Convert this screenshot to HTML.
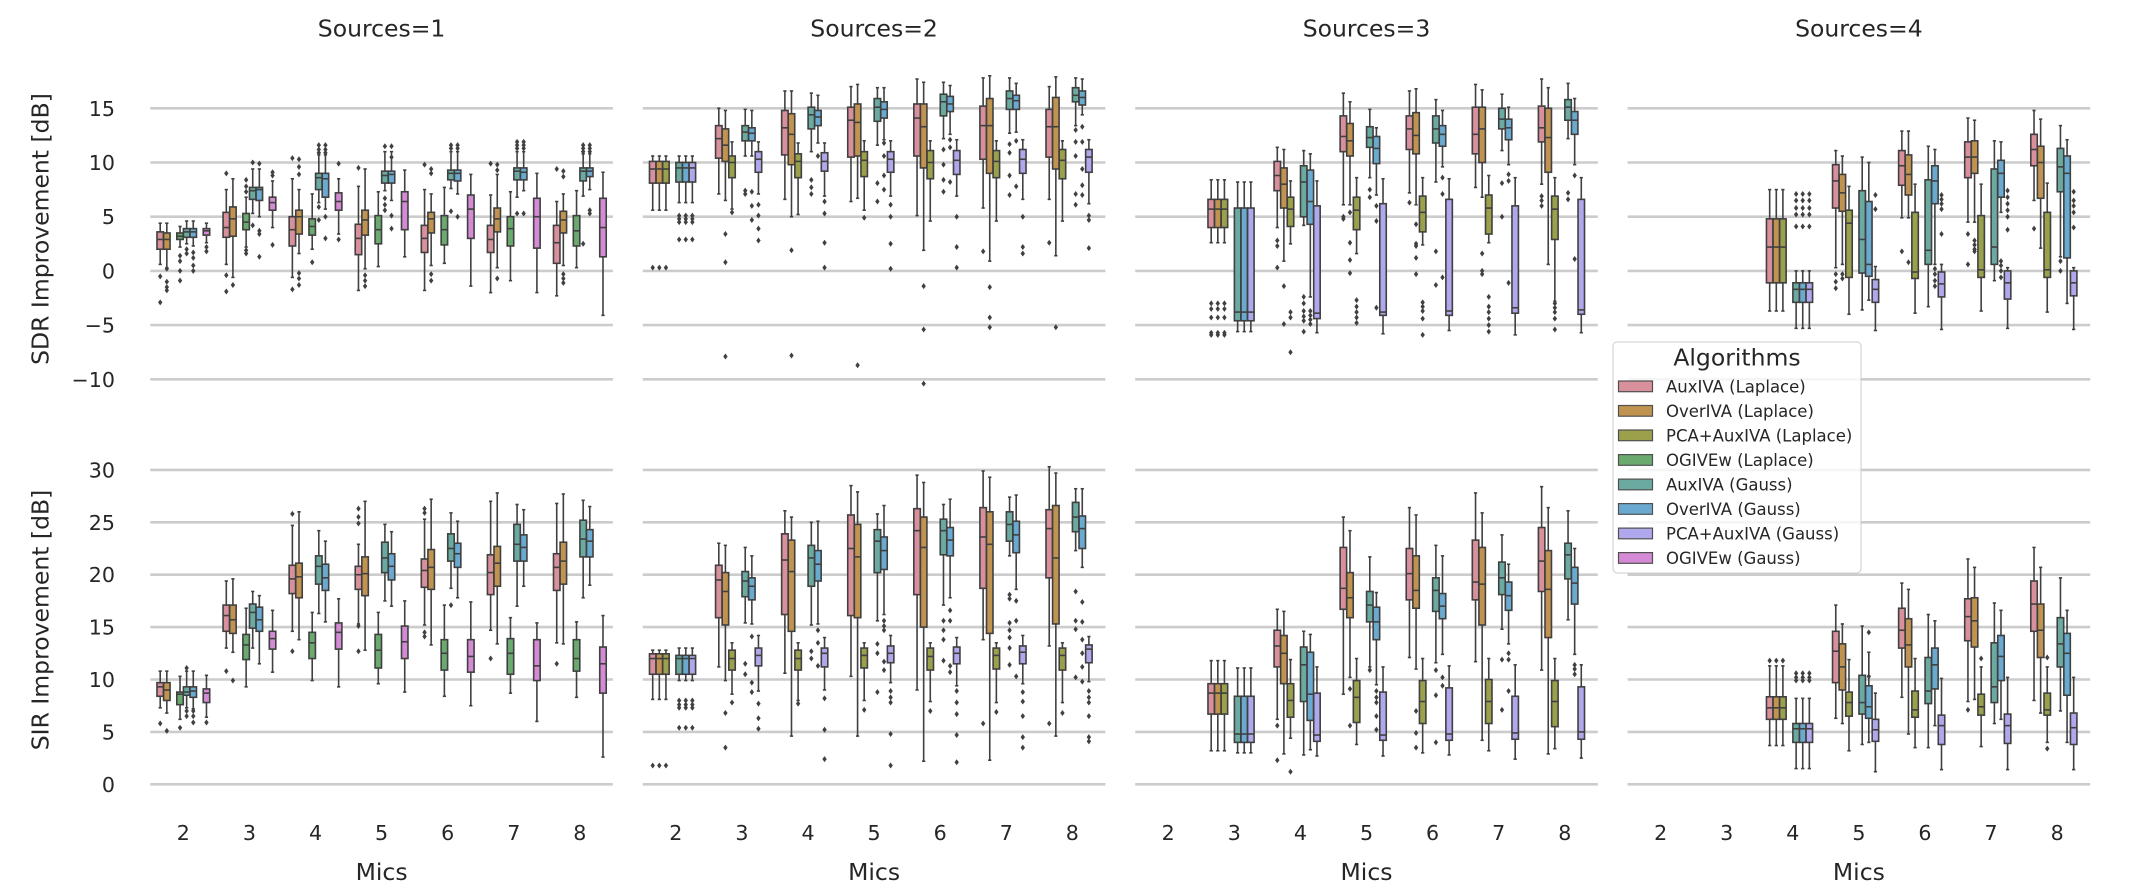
<!DOCTYPE html>
<html>
<head>
<meta charset="utf-8">
<style>
html,body{margin:0;padding:0;background:#fff;}
svg{display:block;font-family:"DejaVu Sans","Liberation Sans",sans-serif;}
</style>
</head>
<body>
<svg id="s" width="2140" height="892" viewBox="0 0 2140 892" xmlns="http://www.w3.org/2000/svg">
<rect x="0" y="0" width="2140" height="892" fill="#ffffff"/>
<g id="grid"></g>
<g id="plot"></g>
<g fill="#262626">
  <text x="381.6" y="36.5" font-size="23.5" text-anchor="middle">Sources=1</text>
  <text x="874.1" y="36.5" font-size="23.5" text-anchor="middle">Sources=2</text>
  <text x="1366.5" y="36.5" font-size="23.5" text-anchor="middle">Sources=3</text>
  <text x="1858.9" y="36.5" font-size="23.5" text-anchor="middle">Sources=4</text>

  <text x="48.5" y="229" font-size="23.5" text-anchor="middle" transform="rotate(-90 48.5 229)">SDR Improvement [dB]</text>
  <text x="48.5" y="620" font-size="23.5" text-anchor="middle" transform="rotate(-90 48.5 620)">SIR Improvement [dB]</text>

  <g font-size="20.6" text-anchor="end">
    <text x="115" y="115.8">15</text>
    <text x="115" y="170">10</text>
    <text x="115" y="224.2">5</text>
    <text x="115" y="278.4">0</text>
    <text x="115" y="332.6">−5</text>
    <text x="115" y="386.8">−10</text>
    <text x="115" y="477.4">30</text>
    <text x="115" y="529.8">25</text>
    <text x="115" y="582.2">20</text>
    <text x="115" y="634.6">15</text>
    <text x="115" y="687">10</text>
    <text x="115" y="739.4">5</text>
    <text x="115" y="791.8">0</text>
  </g>
  <g id="xt" font-size="20.6" text-anchor="middle"></g>
  <g font-size="23.5" text-anchor="middle">
    <text x="381.6" y="880">Mics</text>
    <text x="874.1" y="880">Mics</text>
    <text x="1366.5" y="880">Mics</text>
    <text x="1858.9" y="880">Mics</text>
  </g>
</g>
<g id="legend">
  <rect x="1613" y="342" width="248" height="231" rx="4" ry="4" fill="#ffffff" fill-opacity="0.8" stroke="#cccccc" stroke-width="1"/>
  <text x="1737" y="365.5" font-size="23.5" text-anchor="middle" fill="#262626">Algorithms</text>
  <g stroke="#505050" stroke-width="1.2">
    <rect x="1618.5" y="381" width="34" height="10.7" fill="#d8909c"/>
    <rect x="1618.5" y="405.5" width="34" height="10.7" fill="#c09450"/>
    <rect x="1618.5" y="430" width="34" height="10.7" fill="#9ba04b"/>
    <rect x="1618.5" y="454.6" width="34" height="10.7" fill="#6aaa6e"/>
    <rect x="1618.5" y="479.1" width="34" height="10.7" fill="#6aaaa0"/>
    <rect x="1618.5" y="503.6" width="34" height="10.7" fill="#6aaad0"/>
    <rect x="1618.5" y="528.1" width="34" height="10.7" fill="#b0a8ec"/>
    <rect x="1618.5" y="552.6" width="34" height="10.7" fill="#d48ad4"/>
  </g>
  <g font-size="16.5" fill="#262626">
    <text x="1666" y="392.5">AuxIVA (Laplace)</text>
    <text x="1666" y="417">OverIVA (Laplace)</text>
    <text x="1666" y="441.5">PCA+AuxIVA (Laplace)</text>
    <text x="1666" y="466.1">OGIVEw (Laplace)</text>
    <text x="1666" y="490.6">AuxIVA (Gauss)</text>
    <text x="1666" y="515.1">OverIVA (Gauss)</text>
    <text x="1666" y="539.6">PCA+AuxIVA (Gauss)</text>
    <text x="1666" y="564.1">OGIVEw (Gauss)</text>
  </g>
</g>
</svg>
<script>
(function(){
const P=[150.3,642.8,1135.2,1627.6],W=462.6,S=W/7;
const YF=[v=>270.9-10.84*v, v=>784.3-10.48*v];
const C=['#d8909c','#c09450','#9ba04b','#6aaa6e','#6aaaa0','#6aaad0','#b0a8ec','#d48ad4'];
const G='#404040';
const f=n=>n.toFixed(2);
let g='';
const gv=[[15,10,5,0,-5,-10],[30,25,20,15,10,5,0]];
for(let r=0;r<2;r++)for(let c=0;c<4;c++)for(const v of gv[r]){const y=f(YF[r](v));g+=`<line x1="${P[c]}" x2="${f(P[c]+W)}" y1="${y}" y2="${y}" stroke="#cccccc" stroke-width="2.6"/>`;}
document.getElementById('grid').innerHTML=g;
let xt='';
for(let c=0;c<4;c++)for(let m=0;m<7;m++){xt+=`<text x="${f(P[c]+(m+0.5)*S)}" y="840">${m+2}</text>`;}
document.getElementById('xt').innerHTML=xt;

function bx(c,r,m,h,a){
  const Y=YF[r];
  const cx=P[c]+(m-2+0.5)*S+(h-3.5)*S*0.1;
  const bw=S*0.098, cw=bw*0.5;
  const [a1,a2,md,w1,w2,...o]=a;
  const yt=Y(Math.max(a1,a2)), yb=Y(Math.min(a1,a2));
  const wt=Y(Math.max(w1,w2)), wb=Y(Math.min(w1,w2));
  let s='';
  s+=`<line x1="${f(cx)}" x2="${f(cx)}" y1="${f(wt)}" y2="${f(wb)}" stroke="${G}" stroke-width="1.6"/>`;
  s+=`<line x1="${f(cx-cw/2)}" x2="${f(cx+cw/2)}" y1="${f(wt)}" y2="${f(wt)}" stroke="${G}" stroke-width="1.6"/>`;
  s+=`<line x1="${f(cx-cw/2)}" x2="${f(cx+cw/2)}" y1="${f(wb)}" y2="${f(wb)}" stroke="${G}" stroke-width="1.6"/>`;
  s+=`<rect x="${f(cx-bw/2)}" y="${f(yt)}" width="${f(bw)}" height="${f(Math.max(yb-yt,0.5))}" fill="${C[h]}" stroke="${G}" stroke-width="1.6"/>`;
  const ym=Y(md);
  s+=`<line x1="${f(cx-bw/2)}" x2="${f(cx+bw/2)}" y1="${f(ym)}" y2="${f(ym)}" stroke="${G}" stroke-width="1.6"/>`;
  for(const v of o){const y=Y(v);s+=`<path d="M${f(cx)} ${f(y-3)}L${f(cx+2.2)} ${f(y)}L${f(cx)} ${f(y+3)}L${f(cx-2.2)} ${f(y)}Z" fill="${G}"/>`;}
  return s;
}

const D={
'0,0':[
[2,0,3.6,2.0,2.9,4.4,0.6,-0.5,-2.9],
[2,1,3.5,2.0,2.9,4.4,0.3,0.2,-1.0,-1.5,-1.8],
[2,3,3.5,2.9,3.2,4.1,2.2,1.4,0.9,0.0,-0.9],
[2,4,3.9,3.1,3.6,4.6,2.5,2.0,1.6],
[2,5,3.9,3.1,3.6,4.6,2.3,1.7,1.2,0.5,0.0],
[2,7,3.9,3.3,3.7,4.4,2.6,2.2,1.8],
[3,0,5.4,3.1,4.0,7.5,0.6,9.0,-0.4,-1.9],
[3,1,5.9,3.2,4.8,8.5,-0.6,-1.3],
[3,3,5.3,3.8,4.5,6.8,2.2,8.4,7.8,7.3,1.9,1.6],
[3,4,7.7,6.6,7.4,9.4,5.3,10.0,4.2],
[3,5,7.7,6.5,7.5,9.4,5.0,9.9,3.7,3.4,1.3],
[3,7,6.8,5.6,6.3,8.3,4.0,9.1,8.8,2.4],
[4,0,5.0,2.3,3.8,8.5,-0.6,10.4,-1.7],
[4,1,5.6,3.4,5.0,7.5,1.6,10.3,9.6,8.9,-0.2,-0.7,-1.3],
[4,3,4.8,3.3,4.1,7.1,2.0,0.8],
[4,4,9.0,7.5,8.6,10.7,6.3,11.6,11.2,10.9,5.9,4.7],
[4,5,9.0,6.8,8.5,10.7,5.7,11.6,11.2,10.9,5.0,3.0],
[4,7,7.2,5.6,6.4,8.5,3.4,9.9,2.9],
[5,0,4.3,1.5,3.0,7.8,-1.8,9.5],
[5,1,5.6,3.3,4.7,9.4,0.2,-0.4,-0.9,-1.4],
[5,3,5.1,2.5,3.8,7.3,0.4],
[5,4,9.2,8.1,8.8,11.0,7.4,11.5,6.7,6.1,5.6],
[5,5,9.2,8.1,8.9,11.0,6.5,11.5,10.5,5.1,3.9],
[5,7,7.3,3.8,6.4,9.3,1.3],
[6,0,4.2,1.7,3.0,7.5,-1.8,9.8],
[6,1,5.4,3.5,4.8,7.1,0.5,9.4,9.0,-0.3,-0.9],
[6,3,5.1,2.4,3.8,7.7,0.7],
[6,4,9.3,8.4,9.0,11.0,7.6,11.6,11.3,5.5],
[6,5,9.3,8.3,9.0,11.0,7.1,11.6,11.3,5.0],
[6,7,7.0,3.0,5.7,8.9,-1.4],
[7,0,4.2,1.7,2.9,7.0,-2.0,9.9],
[7,1,5.8,3.6,4.8,8.9,0.3,9.8,9.3,-0.7],
[7,3,5.0,2.3,3.9,7.3,-0.9],
[7,4,9.5,8.4,9.2,11.0,6.8,11.9,11.6,11.3,5.3],
[7,5,9.5,8.4,9.1,11.0,7.4,11.9,11.6,11.3,5.3],
[7,7,6.7,2.1,5.0,9.0,-2.0],
[8,0,4.2,0.7,2.6,6.4,-2.3,9.4],
[8,1,5.5,3.5,4.7,7.1,0.5,9.2,8.7,-0.3,-0.7,-1.1],
[8,3,5.1,2.3,3.7,7.4,0.3],
[8,4,9.5,8.3,9.2,10.8,6.9,11.6,11.3,11.0,2.5],
[8,5,9.5,8.7,9.2,10.8,7.5,11.6,11.3,11.0,5.6,5.3],
[8,7,6.7,1.3,4.0,9.1,-4.1]
],
'0,1':[
[2,0,9.7,8.4,9.3,10.8,7.3,5.8],
[2,1,9.7,8.0,9.0,10.8,6.8,5.1],
[2,3,8.8,7.6,8.6,10.3,6.2,5.4],
[2,4,9.3,8.5,8.8,10.8,7.3,11.1,7.0,6.5],
[2,5,9.3,8.3,8.9,10.8,7.2,7.0,6.5,5.9],
[2,7,9.1,7.8,8.7,10.4,6.4,5.9],
[3,0,17.1,14.6,16.1,19.4,13.0,10.8],
[3,1,17.1,14.4,15.7,19.6,12.6,9.9],
[3,3,14.3,11.9,13.3,16.8,9.3],
[3,4,17.2,14.9,16.4,18.4,13.0],
[3,5,16.9,14.6,15.7,18.0,11.5],
[3,7,14.6,12.9,13.9,16.6,10.7],
[4,0,20.9,18.2,19.6,24.7,14.6,25.8,12.7],
[4,1,21.1,17.8,19.8,26.0,13.8],
[4,3,14.5,12.0,13.5,16.4,9.9],
[4,4,21.8,19.1,20.8,24.2,16.3],
[4,5,21.0,18.5,19.7,23.2,15.5],
[4,7,15.4,12.9,14.5,17.7,9.3],
[5,0,20.8,18.6,20.0,22.9,15.3,26.3,25.5,24.9,15.1,12.7],
[5,1,21.7,18.0,20.1,27.0,12.8],
[5,3,14.3,11.1,12.8,16.4,9.6],
[5,4,23.1,20.2,21.6,24.8,17.5],
[5,5,22.0,19.5,20.8,24.1,17.0],
[5,7,15.1,12.0,13.6,17.5,8.8],
[6,0,21.5,18.8,20.4,25.3,15.2,26.3,25.9,14.5,14.1],
[6,1,22.4,18.6,20.7,27.2,13.3],
[6,3,13.8,10.9,12.5,17.1,8.4],
[6,4,23.9,21.3,22.5,25.9,18.7,17.1],
[6,5,23.0,20.7,22.0,25.1,17.8],
[6,7,13.8,10.7,12.2,17.4,7.5],
[7,0,21.9,18.1,20.2,27.0,14.7,12.0],
[7,1,22.7,18.9,21.1,27.8,13.4],
[7,3,13.9,10.5,12.5,15.9,8.7],
[7,4,24.8,21.3,22.9,26.7,17.0],
[7,5,23.8,21.3,22.6,26.2,18.9],
[7,7,13.8,9.9,11.3,15.4,6.0],
[8,0,22.0,18.5,20.7,26.8,13.5,11.5],
[8,1,23.1,19.1,21.3,27.7,13.4],
[8,3,13.8,10.8,12.0,15.5,8.3],
[8,4,25.2,21.7,23.4,27.1,17.8],
[8,5,24.3,21.7,23.2,26.5,19.0],
[8,7,13.1,8.7,11.5,16.1,2.6]
],
'1,0':[
[2,[0,1,2],10.1,8.1,9.4,10.6,5.6,0.3],
[2,[4,5,6],10.0,8.2,9.5,10.6,6.3,5.1,4.8,4.5,2.9],
[3,0,13.4,10.4,12.2,15.0,7.1],
[3,1,13.1,10.1,11.6,14.8,6.5,3.4,0.8,-7.9],
[3,2,10.6,8.6,10.0,11.9,5.7,5.4],
[3,4,13.4,12.0,12.8,14.9,10.6,7.4,7.1],
[3,5,13.2,12.0,12.7,14.8,10.6,7.3,6.0,4.7],
[3,6,11.0,9.1,10.3,11.9,7.1,6.1,5.1,3.9,2.8],
[4,0,14.8,10.7,13.2,16.6,6.6],
[4,1,14.5,9.8,12.6,16.6,5.0,1.9,-7.8],
[4,2,10.8,8.6,10.1,11.8,5.2],
[4,4,15.1,13.1,14.4,16.4,11.0,8.4,7.7,7.1],
[4,5,14.8,13.4,14.2,16.2,11.8,10.6],
[4,6,10.9,9.2,10.1,11.8,6.9,6.4,5.3,2.6,0.3],
[5,0,15.1,10.5,13.9,17.0,6.4],
[5,1,15.4,10.6,13.7,17.2,6.7,-8.7],
[5,2,11.0,8.7,10.2,12.0,5.6,4.9],
[5,4,15.9,13.8,15.1,16.9,11.6,8.1,6.4],
[5,5,15.6,14.1,14.9,16.9,12.1,11.8,10.6,8.8,7.5],
[5,6,11.0,9.1,10.3,12.0,6.9,6.1,5.0,2.5,0.2],
[6,0,15.4,10.6,14.1,17.7,5.1],
[6,1,15.4,9.5,13.3,17.4,1.9,-1.4,-5.4,-10.4],
[6,2,11.1,8.5,10.0,12.0,4.6],
[6,4,16.3,14.3,15.6,17.4,12.2,11.2,9.8,8.4,7.3],
[6,5,16.1,14.7,15.4,17.1,12.6,12.1,11.4,8.2],
[6,6,11.1,8.9,10.2,12.1,6.9,5.0,2.2,0.3],
[7,0,15.2,10.3,13.4,17.8,5.8,1.8],
[7,1,15.9,9.0,13.4,18.0,0.9,-1.5,-4.3,-5.2],
[7,2,11.1,8.6,10.1,12.0,4.6],
[7,4,16.6,14.9,15.9,17.8,12.7,11.7,10.9,8.8,7.0],
[7,5,16.2,14.9,15.7,17.3,12.8,12.0,7.8],
[7,6,11.2,9.0,10.3,12.1,6.6,5.0,2.2,1.6],
[8,0,14.9,10.5,13.3,17.0,6.6,2.6],
[8,1,16.0,9.4,13.3,17.9,1.4,-5.2],
[8,2,11.2,8.5,10.2,12.0,4.6],
[8,4,16.9,15.6,16.2,17.8,13.4,13.0,11.9,10.6,7.1,6.1],
[8,5,16.6,15.3,16.0,17.7,14.4,13.3,11.9,9.4,7.9,7.0],
[8,6,11.2,9.1,10.5,12.1,6.2,5.1,4.7,2.1]
],
'1,1':[
[2,[0,1,2],12.45,10.5,12.0,12.8,8.1,1.8],
[2,[4,5,6],12.3,10.5,12.0,13.0,9.9,8.0,7.6,7.3,5.4],
[3,0,20.9,15.9,19.5,23.0,11.2],
[3,1,20.2,15.2,18.4,22.8,9.9,6.8,3.5],
[3,2,12.8,10.9,12.0,13.5,8.6,7.8],
[3,4,20.3,17.9,19.4,22.6,15.4,11.5,10.5],
[3,5,19.7,17.6,18.9,21.8,15.3,14.1,9.7,8.8],
[3,6,13.0,11.3,12.3,14.2,8.9,7.7,6.3,5.3],
[4,0,23.9,16.2,21.4,26.1,10.6],
[4,1,23.3,14.6,20.3,25.5,4.6],
[4,2,12.8,10.9,12.0,13.5,8.0,7.7],
[4,4,22.8,18.9,21.6,25.0,15.2,12.7,12.0],
[4,5,22.3,19.4,21.0,25.1,15.3,14.7,13.5,11.3],
[4,6,13.0,11.2,12.5,14.0,9.0,8.2,5.2,2.4],
[5,0,25.7,16.1,22.5,28.5,10.3],
[5,1,24.8,15.9,21.7,27.9,4.6],
[5,2,13.0,11.1,12.3,13.5,8.0,7.1],
[5,4,24.3,20.2,23.2,25.8,15.6,13.4,12.5,8.8],
[5,5,23.6,20.5,22.3,26.6,16.2,15.6,15.1,14.7,11.7,10.9],
[5,6,13.2,11.6,12.5,14.2,9.7,8.9,8.3,7.8,4.8,1.8],
[6,0,26.3,18.1,24.2,29.5,9.0],
[6,1,25.5,15.0,22.6,28.8,2.2],
[6,2,13.0,10.9,12.2,13.5,7.9,7.0],
[6,4,25.3,21.9,24.2,26.7,17.1,15.6,14.7,13.8,11.8],
[6,5,24.5,21.8,23.3,27.2,17.8,16.6,15.6,11.3,10.7],
[6,6,13.1,11.5,12.5,14.0,9.4,8.9,7.8,6.7,4.7,2.1],
[7,0,26.4,18.7,23.6,29.9,13.8,5.8],
[7,1,26.0,14.4,22.9,29.3,2.3],
[7,2,13.0,11.0,12.3,13.5,7.8,6.9],
[7,4,26.0,23.2,24.8,27.4,21.8,18.1,17.7,15.4,14.7,14.0,13.0,11.4],
[7,5,25.1,22.1,23.8,27.6,18.6,17.5,15.6,10.3],
[7,6,13.2,11.5,12.6,14.2,9.6,8.8,7.9,6.5,4.5,3.5],
[8,0,26.2,19.7,24.4,30.3,13.2,5.8],
[8,1,26.6,15.3,21.6,29.7,4.6],
[8,2,13.0,10.9,12.3,13.5,7.8,6.8],
[8,4,26.9,24.1,25.5,28.2,22.3,18.4,15.6,14.8,10.2],
[8,5,25.6,22.5,24.4,28.2,20.7,17.4,15.5,13.8,12.5,11.2,9.8],
[8,6,13.3,11.6,12.9,14.1,9.8,8.9,8.3,7.8,6.5,4.5,4.1]
],
'2,0':[
[3,[0,1,2],6.6,4.0,5.7,8.4,2.6,-3.0,-3.5,-4.3,-5.7,-5.9],
[3,[4,5,6],5.8,-4.6,-3.8,8.2,-5.6],
[4,0,10.1,7.4,8.8,11.4,4.0,2.8,2.3,0.3],
[4,1,9.5,5.8,8.0,11.2,0.9,-1.4,-4.9],
[4,2,6.8,4.1,5.7,8.3,2.5,-3.8,-4.3,-7.5],
[4,4,9.7,5.0,8.2,11.1,4.2,-2.4,-3.0,-3.7,-4.2,-4.6,-5.6],
[4,5,9.3,4.3,6.4,10.8,-2.4,-3.7,-4.1,-4.5,-4.9],
[4,6,6.0,-4.4,-3.9,8.3,-5.7],
[5,0,14.3,11.0,12.4,16.4,6.1,5.0,4.8],
[5,1,13.6,10.6,12.0,15.6,6.1,5.4,2.6,1.0,-0.2],
[5,2,6.8,3.8,5.6,8.6,1.6,-2.7,-3.3,-3.8,-4.3,-4.8],
[5,4,13.3,11.4,12.3,14.9,8.6,7.5,6.8],
[5,5,12.4,9.9,11.3,13.2,7.0,6.0,4.6,-3.4],
[5,6,6.2,-4.1,-3.8,8.5,-5.8],
[6,0,14.3,11.2,13.1,16.6,7.2,6.3],
[6,1,14.6,10.8,12.5,16.8,6.1,4.3,2.5,2.3,1.2,-0.3],
[6,2,6.9,3.6,5.4,8.6,2.4,-2.9,-3.3,-3.7,-4.4,-5.9],
[6,4,14.3,11.8,13.1,15.8,8.2,1.8,-1.3],
[6,5,13.4,11.5,12.6,14.8,9.6,8.6,7.1,-0.6],
[6,6,6.6,-4.1,-3.7,8.5,-5.5],
[7,0,15.1,10.8,12.6,17.2,7.7],
[7,1,15.1,10.0,13.1,16.7,6.8,1.6,0.0,-0.3],
[7,2,7.0,3.4,5.8,8.8,2.6,-2.4,-3.3,-3.8,-4.4,-5.0,-5.6],
[7,4,15.0,13.1,14.0,16.3,11.1,8.1,5.0],
[7,5,14.0,12.1,13.2,15.1,9.8,8.9,8.3,-1.1],
[7,6,6.0,-3.9,-3.4,8.6,-5.9],
[8,0,15.2,11.9,13.2,17.7,8.0,6.9,6.5,6.0],
[8,1,15.0,9.1,12.3,16.9,0.6],
[8,2,6.9,2.9,5.7,8.6,-2.8,-3.0,-3.4,-3.8,-4.4,-5.4],
[8,4,15.8,13.9,15.1,17.3,12.2,7.2,6.6],
[8,5,14.7,12.6,13.9,15.9,9.8,8.8,1.1],
[8,6,6.6,-4.0,-3.6,8.6,-5.7]
],
'2,1':[
[3,[0,1,2],9.6,6.7,8.7,11.8,3.2],
[3,[4,5,6],8.4,4.0,4.8,11.1,3.0],
[4,0,14.7,11.2,13.2,16.7,6.2,5.6,2.3],
[4,1,14.2,9.6,12.5,16.5,2.9],
[4,2,9.6,6.4,8.0,11.9,4.4,1.2],
[4,4,13.1,7.9,11.4,14.6,2.8],
[4,5,12.6,6.1,8.6,14.3,3.3],
[4,6,8.7,4.1,4.7,11.2,2.7],
[5,0,22.6,16.7,18.7,25.5,8.6],
[5,1,20.2,15.9,17.8,24.2,10.2,9.1,5.6],
[5,2,9.9,5.9,8.3,12.0,3.8],
[5,4,18.4,15.5,17.1,21.7,11.2,10.9],
[5,5,16.9,13.8,15.5,18.3,9.5,8.9,8.3,7.8,6.5,5.2],
[5,6,8.8,4.2,4.7,11.2,2.7],
[6,0,22.5,17.6,20.1,26.4,12.1],
[6,1,21.8,16.8,18.5,25.7,11.0,7.0,4.9,3.5],
[6,2,9.9,5.8,7.9,12.0,3.0],
[6,4,19.7,16.5,18.5,22.8,11.6,10.9,8.5,4.0],
[6,5,18.2,15.8,17.0,21.8,12.4,10.2,9.4],
[6,6,9.2,4.2,4.8,11.3,2.8],
[7,0,23.3,17.6,19.3,27.8,11.7],
[7,1,22.6,15.2,19.1,25.9,4.2],
[7,2,10.0,5.8,7.9,12.0,3.2],
[7,4,21.2,18.1,19.7,23.8,14.8,11.9,7.1],
[7,5,19.3,16.6,18.0,21.0,13.4,12.5,11.9,8.9],
[7,6,8.4,4.3,4.9,11.4,2.4],
[8,0,24.5,18.4,21.3,28.4,10.9],
[8,1,22.3,14.0,18.6,26.4,2.9],
[8,2,9.9,5.5,7.9,12.0,3.4],
[8,4,23.0,19.6,21.9,26.1,15.7],
[8,5,20.7,17.2,19.2,22.5,12.4,11.4,11.0,10.5],
[8,6,9.3,4.3,5.0,11.4,2.5]
],
'3,0':[
[4,[0,1,2],4.8,-1.1,2.2,7.5,-3.7],
[4,[4,5,6],-1.1,-2.9,-1.7,0.0,-5.3,7.1,6.5,5.8,5.2,4.1],
[5,0,9.8,5.8,8.3,11.1,0.3,-0.3,-1.0,-1.6],
[5,1,8.9,5.5,7.2,10.6,0.6,-0.3,-0.7],
[5,2,5.6,-0.6,4.4,7.8,-4.0],
[5,4,7.4,-0.2,2.9,10.5,-3.6],
[5,5,6.4,-0.5,0.6,10.0,-2.7],
[5,6,-0.8,-2.9,-1.7,0.4,-5.5,7.0,5.7],
[6,0,11.1,7.9,9.7,12.9,4.9,1.8],
[6,1,10.7,7.0,8.9,12.9,4.9,0.8],
[6,2,5.4,-0.7,-0.1,8.0,-3.9],
[6,4,8.4,0.6,1.9,11.5,-3.3],
[6,5,9.7,6.2,8.3,11.2,0.6,0.2,-0.3,-0.9,-1.4],
[6,6,-0.1,-2.4,-1.2,0.6,-5.4,7.0,6.6,6.2,5.7,3.4],
[7,0,11.9,8.6,10.5,14.1,4.5,3.4,0.6],
[7,1,12.0,9.0,10.5,13.9,4.5,2.8,2.4,2.0,1.8],
[7,2,5.1,-0.6,0.1,8.0,-3.7],
[7,4,9.4,0.6,2.2,12.0,-0.9],
[7,5,10.2,6.8,9.0,11.9,5.4,0.9,0.5,0.0,-0.6],
[7,6,0.0,-2.6,-1.1,0.3,-5.3,7.4,6.8,6.2,5.6,5.0,3.8],
[8,0,12.6,9.7,11.2,14.8,6.5,3.9],
[8,1,11.5,6.7,10.0,14.0,2.1],
[8,2,5.4,-0.6,0.1,8.1,-3.8],
[8,4,11.3,7.3,9.6,13.4,1.3,0.9,0.0],
[8,5,10.6,1.2,9.0,12.1,-3.0],
[8,6,0.0,-2.3,-1.1,0.3,-5.4,7.3,6.5,6.0,5.4,4.0]
],
'3,1':[
[4,[0,1,2],8.35,6.2,7.3,11.3,3.7,11.8],
[4,[4,5,6],5.8,4.0,5.3,8.2,1.5,10.6,10.2,9.9],
[5,0,14.6,9.7,12.7,17.1,6.3],
[5,1,13.4,9.0,11.2,15.3,5.8],
[5,2,8.8,6.5,7.8,11.9,3.2],
[5,4,10.4,6.7,7.8,15.1,3.8],
[5,5,9.4,6.3,7.4,12.6,4.0,14.5,10.3],
[5,6,6.2,4.1,5.2,8.7,1.2],
[6,0,16.8,13.0,14.7,19.2,8.3],
[6,1,15.8,11.2,13.3,18.6,4.8],
[6,2,8.9,6.4,7.1,12.0,3.5],
[6,4,12.1,7.7,8.9,16.2,3.5],
[6,5,13.0,9.1,11.4,15.6,5.6],
[6,6,6.6,3.8,5.6,10.1,1.4],
[7,0,17.7,13.7,16.0,21.5,7.9,7.1],
[7,1,17.8,13.1,15.6,20.7,8.1],
[7,2,8.6,6.6,7.4,11.2,3.6,12.0],
[7,4,13.5,7.8,9.3,17.3,5.8],
[7,5,14.2,9.9,12.2,16.6,6.2],
[7,6,6.7,3.9,5.6,10.2,1.4],
[8,0,19.4,14.6,17.2,22.6,8.0],
[8,1,17.2,12.1,14.7,20.7,6.8],
[8,2,8.7,6.6,7.1,11.2,4.0,12.1,3.4],
[8,4,15.9,11.2,13.4,19.7,7.0],
[8,5,14.4,8.5,12.5,16.6,4.0],
[8,6,6.8,3.8,5.4,10.2,1.4]
]
};
let out='';
for(const k in D){
  const cr=k.split(',').map(Number);
  for(const e of D[k]){
    const hs=Array.isArray(e[1])?e[1]:[e[1]];
    for(const h of hs) out+=bx(cr[0],cr[1],e[0],h,e.slice(2));
  }
}
document.getElementById('plot').innerHTML=out;
})();
</script>
</body>
</html>
